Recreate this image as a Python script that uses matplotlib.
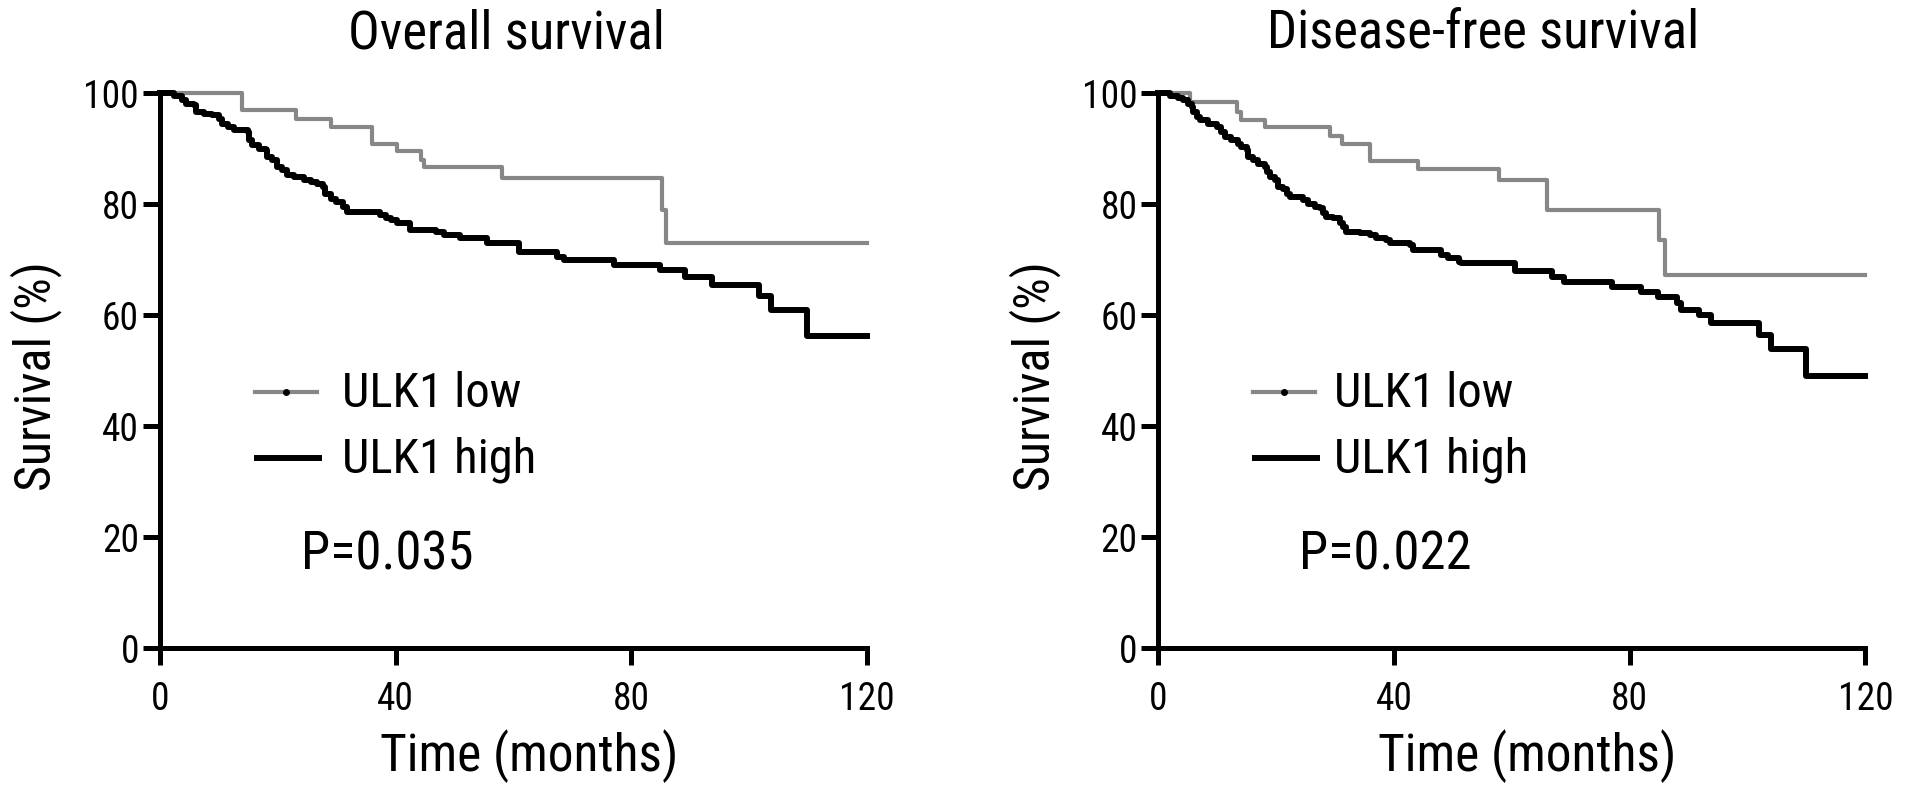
import matplotlib
matplotlib.use('Agg')
import matplotlib.pyplot as plt
from matplotlib import font_manager

# the original figure uses a condensed Arial-like face
installed = {f.name for f in font_manager.fontManager.ttflist}
family = 'Liberation Sans'
for cand in ['Roboto Condensed', 'Archivo Narrow', 'PT Sans Narrow', 'Arimo']:
    if cand in installed:
        family = cand
        break
plt.rcParams['font.family'] = [family, 'DejaVu Sans']

follow_up_end = 120

# overall survival, ULK1 low / high (time in months, survival in %)
os_low_t = [0, 14.0, 23.1, 29.0, 36.0, 40.2, 44.3, 44.8, 58.1, 85.2, 85.9]
os_low_s = [100, 97.0, 95.3, 93.9, 90.9, 89.5, 88.0, 86.6, 84.7, 79.0, 73.0]

os_high_t = [0, 2.4, 3.8, 4.4, 5.8, 6.1, 7.5, 8.9, 10.1, 10.6, 11.5, 12.6, 14.9, 15.1, 15.7,
             16.8, 18.0, 18.2, 19.1, 19.9, 20.8, 21.6, 22.8, 24.5, 25.6, 26.7, 27.6, 28.1,
             29.0, 29.8, 31.0, 31.8, 37.4, 38.3, 39.2, 40.3, 42.5, 46.8, 48.2, 51.0, 55.5,
             60.9, 67.4, 68.5, 77.0, 84.9, 89.1, 93.7, 101.7, 103.7, 109.8]
os_high_s = [100, 99.4, 98.7, 98.1, 97.8, 96.6, 96.3, 96.0, 95.4, 94.5, 93.9, 93.3, 93.0, 91.5,
             90.6, 90.0, 89.7, 88.5, 87.9, 86.7, 86.1, 85.2, 84.9, 84.4, 84.0, 83.7, 83.1,
             81.9, 81.0, 80.4, 79.5, 78.6, 78.0, 77.4, 77.1, 76.5, 75.3, 75.0, 74.4, 73.8,
             72.9, 71.4, 70.5, 69.9, 69.0, 68.1, 66.8, 65.4, 63.4, 60.9, 56.2]

# disease-free survival
dfs_low_t = [0, 5.4, 13.4, 14.0, 18.1, 29.1, 31.1, 36.0, 44.1, 57.9, 66.0, 85.0, 86.0]
dfs_low_s = [100, 98.3, 96.6, 95.1, 93.8, 92.3, 90.8, 87.8, 86.3, 84.4, 78.9, 73.5, 67.2]

dfs_high_t = [0, 2.0, 3.4, 4.2, 5.1, 5.65, 5.9, 6.5, 7.1, 8.5, 9.9, 10.7, 11.3, 12.4, 13.6,
              14.1, 15.0, 15.3, 16.1, 17.0, 18.1, 18.4, 18.9, 19.8, 20.3, 21.2, 21.8, 22.3,
              24.6, 25.4, 26.6, 27.4, 28.0, 28.5, 29.7, 30.8, 31.4, 31.9, 34.2, 35.9, 37.0,
              38.7, 39.3, 42.7, 43.2, 48.0, 49.2, 51.1, 51.4, 60.5, 66.9, 68.9, 77.0, 81.9,
              84.8, 88.1, 88.7, 91.8, 93.8, 102.0, 104.0, 109.9]
dfs_high_s = [100, 99.5, 99.2, 98.7, 98.1, 97.5, 96.6, 95.7, 95.1, 94.5, 93.9, 93.0, 92.1, 91.5,
              90.9, 90.3, 89.7, 88.5, 87.9, 87.3, 86.7, 85.8, 84.9, 84.3, 83.1, 82.8, 81.9,
              81.3, 80.7, 80.1, 79.5, 79.2, 78.3, 77.7, 77.4, 76.5, 75.9, 75.0, 74.7, 74.4,
              73.8, 73.5, 72.9, 72.6, 71.7, 70.8, 70.2, 69.6, 69.3, 68.0, 66.9, 66.0, 65.1,
              64.2, 63.3, 62.1, 61.0, 60.0, 58.5, 56.4, 53.8, 49.0]

titles = ['Overall survival', 'Disease-free survival']
p_values = ['P=0.035', 'P=0.022']
group_labels = ['ULK1 low', 'ULK1 high']
x_ticks = [0, 40, 80, 120]
y_ticks = [0, 20, 40, 60, 80, 100]

low_color = '#878787'
high_color = 'black'

fig = plt.figure(figsize=(19.13, 7.90), dpi=100)
ax_os = fig.add_axes([0.0836, 0.1797, 0.3696, 0.7025])
ax_dfs = fig.add_axes([0.6055, 0.1797, 0.3696, 0.7025])

panels = [
    (ax_os, os_low_t, os_low_s, os_high_t, os_high_s, 0.257, 0.49),
    (ax_dfs, dfs_low_t, dfs_low_s, dfs_high_t, dfs_high_s, 0.248, 0.46),
]

for i, (ax, lt, ls, ht, hs, text_x, title_x) in enumerate(panels):
    ax.step(lt + [follow_up_end], ls + [ls[-1]], where='post', color=low_color,
            lw=3.0, clip_on=False, zorder=3)
    ax.step(ht + [follow_up_end], hs + [hs[-1]], where='post', color=high_color,
            lw=4.3, clip_on=False, zorder=4)

    ax.set_xlim(0, follow_up_end)
    ax.set_ylim(0, 100)
    ax.set_xticks(x_ticks)
    ax.set_yticks(y_ticks)
    for side in ['top', 'right']:
        ax.spines[side].set_visible(False)
    for side in ['left', 'bottom']:
        ax.spines[side].set_linewidth(3.6)
    ax.tick_params(axis='both', direction='out', length=12, width=3.6, labelsize=27)
    ax.tick_params(axis='x', pad=12)
    ax.tick_params(axis='y', pad=3)

    ax.set_title(titles[i], fontsize=38, x=title_x, y=1.081, pad=0, va='baseline')
    ax.set_xlabel('Time (months)', fontsize=37)
    ax.xaxis.set_label_coords(0.522, -0.146)
    ax.set_ylabel('Survival (%)', fontsize=36)
    ax.yaxis.set_label_coords(-0.138, 0.49)

    # legend drawn by hand, like the prism layout
    ax.plot([0.134, 0.222], [0.461, 0.461], transform=ax.transAxes, color=low_color,
            lw=3.0, clip_on=False)
    ax.plot([0.178], [0.461], transform=ax.transAxes, marker='o', ms=4, color='black',
            clip_on=False)
    ax.plot([0.137, 0.225], [0.342, 0.342], transform=ax.transAxes, color=high_color,
            lw=4.3, clip_on=False)
    ax.text(text_x, 0.434, group_labels[0], transform=ax.transAxes, fontsize=35,
            va='baseline', ha='left')
    ax.text(text_x, 0.317, group_labels[1], transform=ax.transAxes, fontsize=35,
            va='baseline', ha='left')
    ax.text(0.199, 0.141, p_values[i], transform=ax.transAxes, fontsize=38,
            va='baseline', ha='left')

fig.savefig('out.png', dpi=100)
